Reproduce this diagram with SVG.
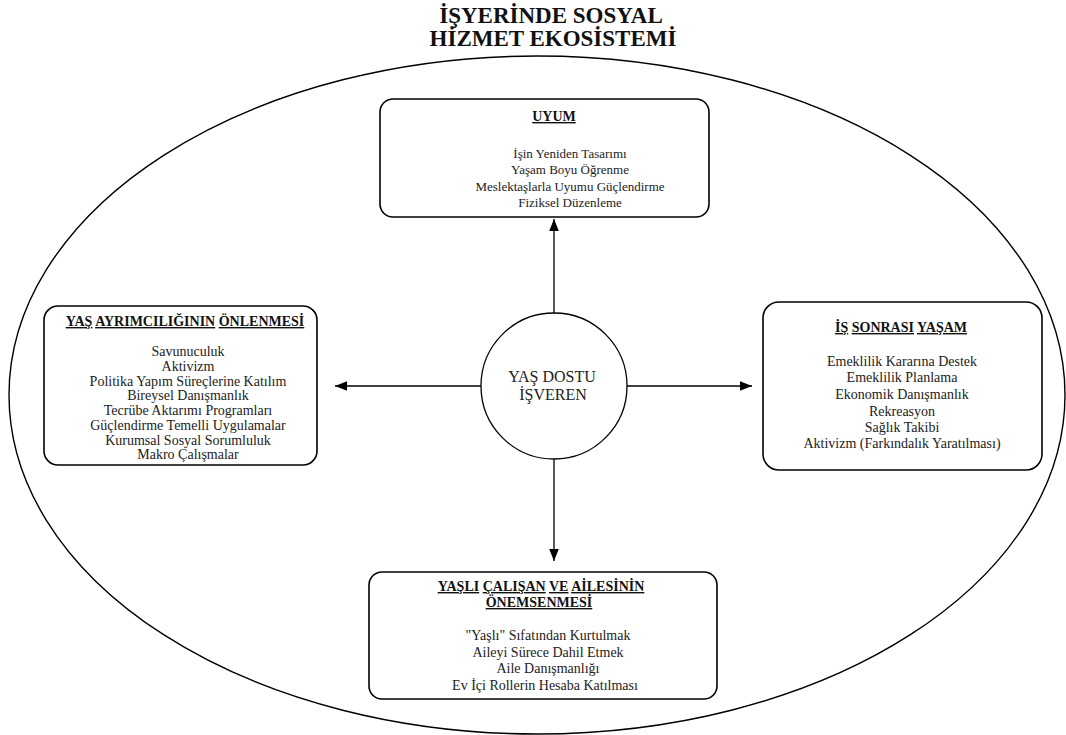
<svg xmlns="http://www.w3.org/2000/svg" width="1066" height="735" viewBox="0 0 1066 735">
<defs>
<style>
.title{font-family:"Liberation Serif",serif;font-weight:bold;font-size:23px;fill:#111;text-anchor:middle}
.box{fill:#fff;stroke:#000;stroke-width:1.6}
.h{font-family:"Liberation Serif",serif;font-weight:bold;font-size:14px;fill:#111;text-anchor:middle}
.u{text-decoration:underline}
.b{font-family:"Liberation Serif",serif;font-size:14px;fill:#222;text-anchor:middle}
.bs{font-family:"Liberation Serif",serif;font-size:13px;fill:#222;text-anchor:middle}
.c{font-family:"Liberation Serif",serif;font-size:16px;fill:#222;text-anchor:middle}
.line{stroke:#000;stroke-width:1.3;fill:none}
</style>
<marker id="ah" viewBox="0 0 10 10" refX="10" refY="5" markerWidth="12" markerHeight="12" markerUnits="userSpaceOnUse" orient="auto">
<path d="M0,1 L10,5 L0,9 Z" fill="#000"/>
</marker>
</defs>
<rect width="1066" height="735" fill="#fff"/>
<g id="title">
<text class="title" x="551" y="23">İŞYERİNDE SOSYAL</text>
<text class="title" x="553" y="46">HİZMET EKOSİSTEMİ</text>
</g>
<g id="ecosystem">
<ellipse cx="537" cy="395" rx="528" ry="339" fill="none" stroke="#000" stroke-width="1.4"/>
</g>
<g id="connectors">
<line class="line" x1="554" y1="313" x2="554" y2="219" marker-end="url(#ah)"/>
<line class="line" x1="554" y1="459" x2="554" y2="561" marker-end="url(#ah)"/>
<line class="line" x1="481" y1="386" x2="335" y2="386" marker-end="url(#ah)"/>
<line class="line" x1="627" y1="386" x2="752" y2="386" marker-end="url(#ah)"/>
</g>
<g id="center">
<circle cx="554" cy="386" r="73" fill="#fff" stroke="#000" stroke-width="1.3"/>
<text class="c" x="552" y="382">YAŞ DOSTU</text>
<text class="c" x="553" y="400">İŞVEREN</text>
</g>
<g id="uyum">
<rect class="box" x="380" y="99" width="329" height="118" rx="13"/>
<text class="h" x="554" y="121"><tspan class="u">UYUM</tspan></text>
<text class="bs" x="570" y="158">İşin Yeniden Tasarımı</text>
<text class="bs" x="570" y="174">Yaşam Boyu Öğrenme</text>
<text class="bs" x="570" y="191">Meslektaşlarla Uyumu Güçlendirme</text>
<text class="bs" x="570" y="207">Fiziksel Düzenleme</text>
</g>
<g id="ayrimcilik">
<rect class="box" x="44" y="306" width="273" height="159" rx="14"/>
<text class="h" x="185" y="326"><tspan class="u">YAŞ</tspan> <tspan class="u">AYRIMCILIĞININ</tspan> <tspan class="u">ÖNLENMESİ</tspan></text>
<text class="b" x="188" y="356">Savunuculuk</text>
<text class="b" x="188" y="371">Aktivizm</text>
<text class="b" x="188" y="386">Politika Yapım Süreçlerine Katılım</text>
<text class="b" x="188" y="400">Bireysel Danışmanlık</text>
<text class="b" x="188" y="415">Tecrübe Aktarımı Programları</text>
<text class="b" x="188" y="430">Güçlendirme Temelli Uygulamalar</text>
<text class="b" x="188" y="445">Kurumsal Sosyal Sorumluluk</text>
<text class="b" x="188" y="459">Makro Çalışmalar</text>
</g>
<g id="is-sonrasi">
<rect class="box" x="763" y="302" width="279" height="168" rx="16"/>
<text class="h" x="901" y="332"><tspan class="u">İŞ</tspan> <tspan class="u">SONRASI</tspan> <tspan class="u">YAŞAM</tspan></text>
<text class="b" x="902" y="366">Emeklilik Kararına Destek</text>
<text class="b" x="902" y="382">Emeklilik Planlama</text>
<text class="b" x="902" y="399">Ekonomik Danışmanlık</text>
<text class="b" x="902" y="416">Rekreasyon</text>
<text class="b" x="902" y="432">Sağlık Takibi</text>
<text class="b" x="902" y="448">Aktivizm (Farkındalık Yaratılması)</text>
</g>
<g id="yasli-calisan">
<rect class="box" x="369" y="572" width="348" height="127" rx="13"/>
<text class="h" x="541" y="591"><tspan class="u">YAŞLI</tspan> <tspan class="u">ÇALIŞAN</tspan> <tspan class="u">VE</tspan> <tspan class="u">AİLESİNİN</tspan></text>
<text class="h" x="539" y="607"><tspan class="u">ÖNEMSENMESİ</tspan></text>
<text class="b" x="548" y="640">"Yaşlı" Sıfatından Kurtulmak</text>
<text class="b" x="548" y="657">Aileyi Sürece Dahil Etmek</text>
<text class="b" x="548" y="673">Aile Danışmanlığı</text>
<text class="b" x="545" y="690">Ev İçi Rollerin Hesaba Katılması</text>
</g>
</svg>
